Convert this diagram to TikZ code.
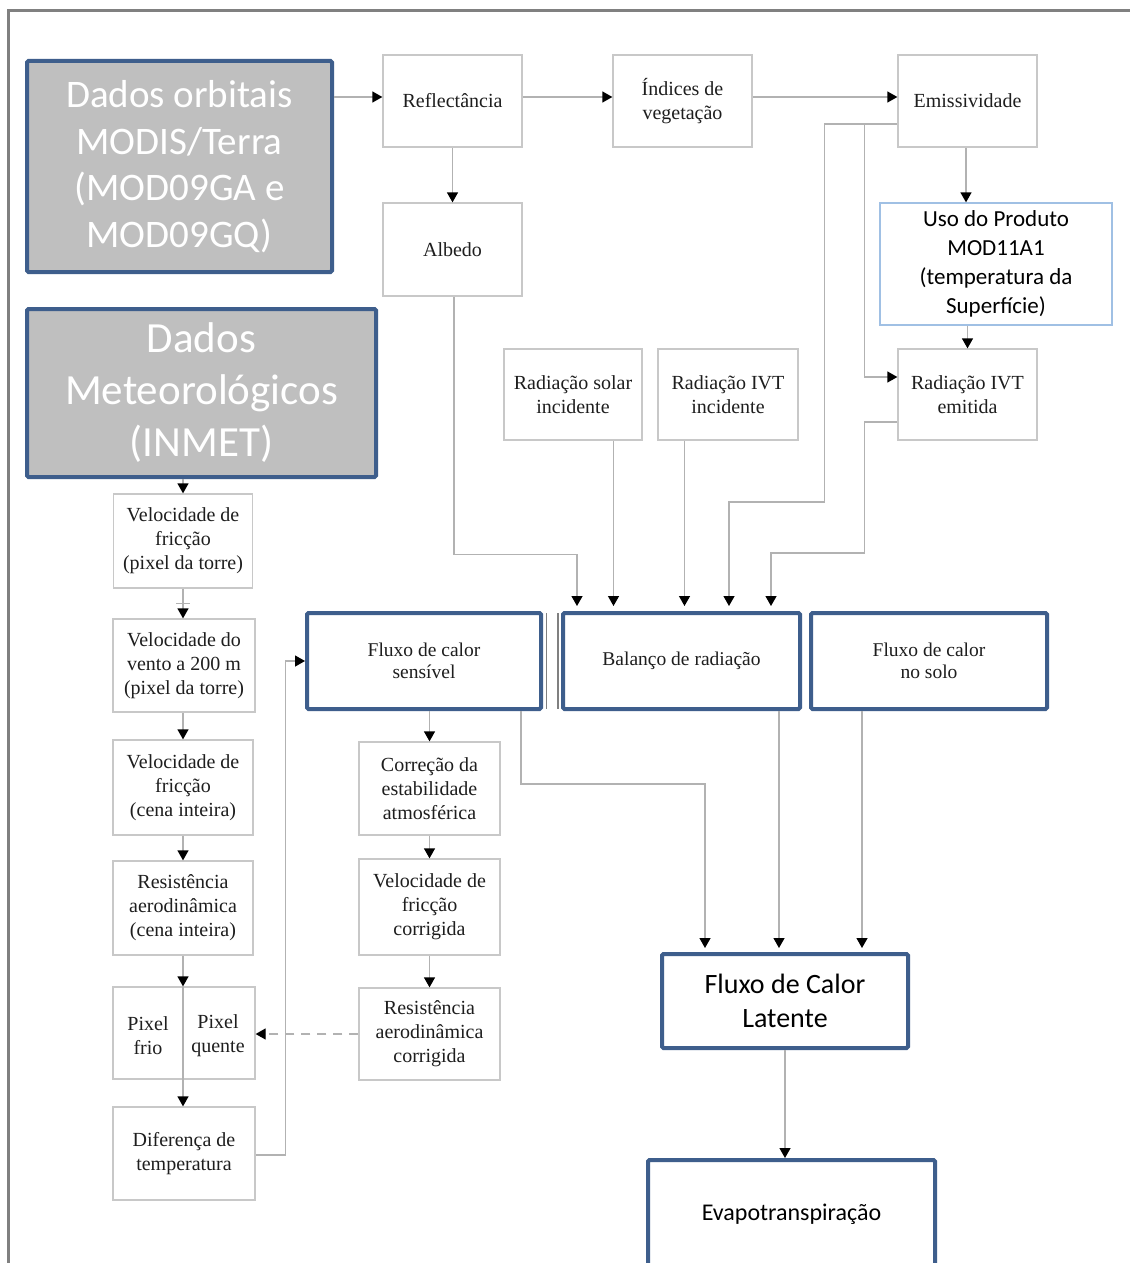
\documentclass[tikz,border=0pt]{standalone}
\usepackage{fontspec}
\setmainfont{Liberation Serif}
\newfontfamily\calib{Carlito}
\usetikzlibrary{arrows.meta}
\definecolor{bluebd}{RGB}{62,94,140}
\definecolor{greyfill}{RGB}{191,191,191}
\definecolor{boxline}{RGB}{200,200,200}
\definecolor{wire}{RGB}{178,178,178}
\definecolor{ink}{RGB}{30,30,30}
\definecolor{paleblue}{RGB}{160,192,228}
\definecolor{framegray}{RGB}{128,128,128}
\begin{document}
\begin{tikzpicture}[x=1pt,y=-1pt,
  tbox/.style={draw=boxline, line width=1.3pt, fill=white, text=ink, align=center,
    inner sep=0pt, font=\fontsize{20}{24}\selectfont},
  bbox/.style={draw=bluebd, line width=4pt, rounded corners=1.5pt, fill=white, text=ink,
    align=center, inner sep=0pt, font=\fontsize{19.5}{22.5}\selectfont},
  gbox/.style={draw=bluebd, line width=4pt, rounded corners=1.5pt, fill=greyfill, text=white,
    align=center, inner sep=0pt},
  conn/.style={draw=wire, line width=1.3pt, -{Triangle[length=10pt,width=11pt,color=black]}},
  dconn/.style={conn, dashed, dash pattern=on 9pt off 7pt},
  lbl/.style={text=ink, align=center, inner sep=0pt, font=\fontsize{20}{24}\selectfont}
]
\useasboundingbox (0,0) rectangle (1130,1263);
\fill[white] (0,0) rectangle (1130,1263);

% outer frame
\draw[framegray, line width=2.5pt] (8.5,1263) -- (8.5,10.5) -- (1130,10.5);

% source boxes
\node[gbox, minimum width=305, minimum height=211,
  font=\calib\fontsize{39}{46.5}\selectfont] (orb) at (179.5,166.5)
  {Dados orbitais\\MODIS/Terra\\(MOD09GA e\\MOD09GQ)};
\node[gbox, minimum width=349, minimum height=168,
  font=\calib\fontsize{43}{52}\selectfont] (met) at (201.5,393)
  {Dados\\Meteorológicos\\(INMET)};

% remote sensing chain
\node[tbox, minimum width=139, minimum height=92] (refl) at (452.5,101) {Reflectância};
\node[tbox, minimum width=139, minimum height=92] (ind) at (682.5,101) {Índices de\\vegetação};
\node[tbox, minimum width=139, minimum height=92] (emis) at (967.5,101) {Emissividade};
\node[tbox, minimum width=139, minimum height=93] (alb) at (452.5,249.5) {Albedo};
\node[tbox, draw=paleblue, minimum width=232, minimum height=122, text=black,
  font=\calib\fontsize{23}{29}\selectfont] (uso) at (996,264)
  {Uso do Produto\\MOD11A1\\(temperatura da\\Superfície)};
\node[tbox, minimum width=138, minimum height=91] (rsol) at (573,394.5) {Radiação solar\\incidente};
\node[tbox, minimum width=140, minimum height=91] (rinc) at (728,394.5) {Radiação IVT\\incidente};
\node[tbox, minimum width=139, minimum height=91] (remi) at (967.5,394.5) {Radiação IVT\\emitida};

% meteorological chain
\node[tbox, minimum width=139, minimum height=94] (vf1) at (183,541) {Velocidade de\\fricção\\(pixel da torre)};
\node[tbox, minimum width=142, minimum height=93] (vv) at (184,665.5) {Velocidade do\\vento a 200 m\\(pixel da torre)};
\node[tbox, minimum width=140, minimum height=95] (vf2) at (183,787.5) {Velocidade de\\fricção\\(cena inteira)};
\node[tbox, minimum width=140, minimum height=94] (ra) at (183,908) {Resistência\\aerodinâmica\\(cena inteira)};
\node[tbox, minimum width=142, minimum height=92] (pix) at (184,1033) {};
\node[lbl] (pixf) at ([xshift=-36,yshift=-3]pix.center) {Pixel\\frio};
\node[lbl] (pixq) at ([xshift=34,yshift=-3]pix.center) {Pixel\\quente};
\node[tbox, minimum width=142, minimum height=93] (dif) at (184,1153.5) {Diferença de\\temperatura};

% sensible heat iteration
\node[tbox, minimum width=141, minimum height=93] (cor) at (429.5,788.5) {Correção da\\estabilidade\\atmosférica};
\node[tbox, minimum width=141, minimum height=96] (vfc) at (429.5,907) {Velocidade de\\fricção\\corrigida};
\node[tbox, minimum width=141, minimum height=92] (rac) at (429.5,1034) {Resistência\\aerodinâmica\\corrigida};

% energy balance terms
\node[bbox, minimum width=234, minimum height=96] (hs) at (424,661) {Fluxo de calor\\sensível};
\node[bbox, minimum width=237, minimum height=96] (rn) at (681.5,661) {Balanço de radiação};
\node[bbox, minimum width=236, minimum height=96] (g) at (929,661) {Fluxo de calor\\no solo};
\draw[framegray, line width=1.4pt] ([xshift=3.2,yshift=-2]hs.north east) -- ([xshift=3.2,yshift=2]hs.south east);
\draw[framegray, line width=1.4pt] ([xshift=-3.2,yshift=-2]rn.north west) -- ([xshift=-3.2,yshift=2]rn.south west);
\node[bbox, minimum width=246, minimum height=94, text=black,
  font=\calib\fontsize{28}{34}\selectfont] (le) at (785,1001) {Fluxo de Calor\\Latente};
\node[bbox, minimum width=287, minimum height=108, text=black,
  font=\calib\fontsize{24}{29}\selectfont] (et) at (791.5,1214) {Evapotranspiração};

% connectors: remote sensing
\draw[conn] (orb.east |- 0,97) -- ([yshift=4]refl.west);
\draw[conn] ([yshift=4]refl.east) -- ([yshift=4]ind.west);
\draw[conn] ([yshift=4]ind.east) -- ([yshift=4]emis.west);
\draw[conn] (refl.south) -- (refl.south |- alb.north);
\draw[conn] ([xshift=-1.5]emis.south) -- ([xshift=-1.5]emis.south |- uso.north);
\draw[conn] (uso.south -| remi.north) -- (remi.north);
\coordinate (ej) at ([xshift=-33,yshift=-23]emis.west);
\draw[conn] ([yshift=-23]emis.west) -- ++(-73,0) -- ++(0,378) -| ([xshift=47.5,yshift=5]rn.north);
\draw[conn] (ej) |- ([yshift=17.5]remi.west);
\draw[conn] ([yshift=-27.5]remi.west) -- ++(-33,0) -- ++(0,131) -| ([xshift=89.5,yshift=5]rn.north);
\draw[conn] ([xshift=1.5]alb.south) -- ++(0,258) -| ([xshift=-104.5,yshift=5]rn.north);
\draw[conn] ([xshift=40.5]rsol.south) -- ([xshift=40.5,yshift=5]rsol.south |- rn.north);
\draw[conn] ([xshift=-43.5]rinc.south) -- ([xshift=-43.5,yshift=5]rinc.south |- rn.north);

% connectors: meteorological chain
\draw[conn] (met.south -| vf1.north) -- (vf1.north);
\draw[conn] (vf1.south) -- (vf1.south |- vv.north);
\draw[wire, line width=1.3pt] ([xshift=-7,yshift=-15]vf1.south) -- ([xshift=7,yshift=-15]vf1.south);
\draw[conn] (vf1.south |- vv.south) -- (vf1.south |- vf2.north);
\draw[conn] (vf2.south) -- (ra.north);
\draw[conn] (ra.south) -- (ra.south |- pix.north);
\draw[conn] (ra.south |- pix.north) -- (ra.south |- dif.north);
\draw[conn] ([yshift=-1.5]dif.east) -- ++(30,0) |- (hs.west);
\draw[dconn] (rac.west) -- (rac.west -| pix.east);

% connectors: sensible heat iteration
\draw[conn] ([xshift=5.5]hs.south) -- ([xshift=5.5]hs.south |- cor.north);
\draw[conn] (cor.south) -- (vfc.north);
\draw[conn] (vfc.south) -- (rac.north);

% connectors: latent heat and evapotranspiration
\draw[conn] ([xshift=97]hs.south) -- ++(0,73) -| ([xshift=-80,yshift=4]le.north);
\draw[conn] ([xshift=97.5]rn.south) -- ([xshift=97.5,yshift=4]rn.south |- le.north);
\draw[conn] ([xshift=-67]g.south) -- ([xshift=-67,yshift=4]g.south |- le.north);
\draw[conn] (le.south) -- (le.south |- et.north);
\end{tikzpicture}
\end{document}
